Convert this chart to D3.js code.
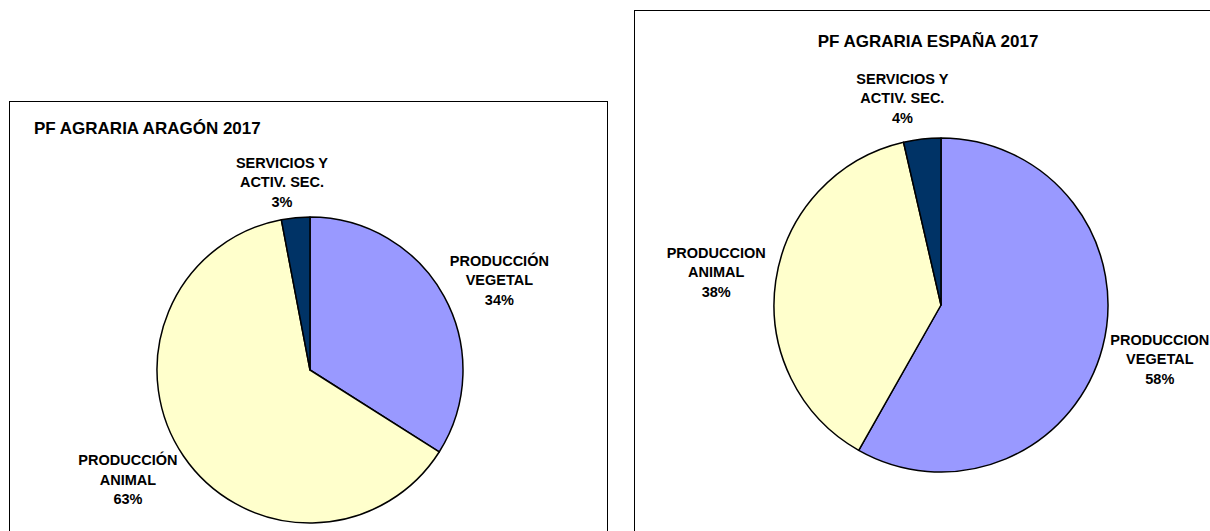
<!DOCTYPE html>
<html>
<head>
<meta charset="utf-8">
<script src="https://cdn.jsdelivr.net/npm/d3@7"></script>
<style>
  body { margin: 0; background: #fff; }
  text { font-family: "Liberation Sans", Arial, sans-serif; font-weight: bold; fill: #000; }
</style>
</head>
<body>
<div id="container"></div>
<script>
// slice order: vegetal, animal, servicios (clockwise from 12 o'clock)
const aragonValues = [34, 63, 3];
const aragonLabels = [
    ['PRODUCCIÓN', 'VEGETAL'],
    ['PRODUCCIÓN', 'ANIMAL'],
    ['SERVICIOS Y', 'ACTIV. SEC.']
];
const espanaValues = [58.2, 38.2, 3.6];
const espanaLabels = [
    ['PRODUCCION', 'VEGETAL'],
    ['PRODUCCION', 'ANIMAL'],
    ['SERVICIOS Y', 'ACTIV. SEC.']
];
const sliceColors = ['#9999ff', '#ffffcc', '#003366'];

// chart dimensions
const w = 1210;
const h = 531;

const svg = d3.select('#container')
                .append('svg')
                .attr('width', w)
                .attr('height', h);

const pie = d3.pie().sort(null).value((d) => d);

function drawPie(cfg) {
    const g = svg.append('g');

    // chart frame
    g.append('rect')
        .attr('x', cfg.box[0] + 0.5)
        .attr('y', cfg.box[1] + 0.5)
        .attr('width', cfg.box[2])
        .attr('height', cfg.box[3])
        .attr('fill', '#fff')
        .attr('stroke', '#000')
        .attr('stroke-width', 1);

    g.append('text')
        .attr('x', cfg.title[0])
        .attr('y', cfg.title[1])
        .attr('text-anchor', cfg.title[2])
        .attr('font-size', 17)
        .text(cfg.titleText);

    const arcs = pie(cfg.values);
    const arc = d3.arc().innerRadius(0).outerRadius(cfg.r);

    const pg = g.append('g')
        .attr('transform', `translate(${cfg.cx}, ${cfg.cy})`);

    pg.selectAll('path')
        .data(arcs)
        .join('path')
        .attr('d', arc)
        .attr('fill', (d, i) => sliceColors[i])
        .attr('stroke', '#000')
        .attr('stroke-width', 1.5)
        .attr('stroke-linejoin', 'round');

    // data labels outside the pie: [radius factor, angle nudge in degrees]
    const total = d3.sum(cfg.values);
    const lbl = pg.selectAll('g.lbl')
        .data(arcs)
        .join('g')
        .attr('class', 'lbl')
        .attr('transform', (d, i) => {
            const [k, da] = cfg.labelPos[i];
            const a = (d.startAngle + d.endAngle) / 2 + da * Math.PI / 180;
            const rr = cfg.r * k;
            return `translate(${rr * Math.sin(a)}, ${-rr * Math.cos(a)})`;
        });

    lbl.each(function(d, i) {
        const lines = cfg.labels[i].concat([Math.round(d.value / total * 100) + '%']);
        d3.select(this).selectAll('text')
            .data(lines)
            .join('text')
            .attr('text-anchor', 'middle')
            .attr('font-size', 14.5)
            .attr('y', (t, j) => (j - 1) * 19.5 + 5)
            .text((t) => t);
    });
}

drawPie({
    box: [9, 101, 598, 500],
    title: [34, 134, 'start'],
    titleText: 'PF AGRARIA ARAGÓN 2017',
    cx: 310, cy: 370, r: 153,
    values: aragonValues,
    labels: aragonLabels,
    labelPos: [[1.37, 3.4], [1.39, 3.1], [1.24, -3.1]]
});

drawPie({
    box: [634, 10, 620, 600],
    title: [928, 47, 'middle'],
    titleText: 'PF AGRARIA ESPAÑA 2017',
    cx: 941, cy: 305, r: 167,
    values: espanaValues,
    labels: espanaLabels,
    labelPos: [[1.35, -0.8], [1.36, 0], [1.26, -4.1]]
});
</script>
</body>
</html>
